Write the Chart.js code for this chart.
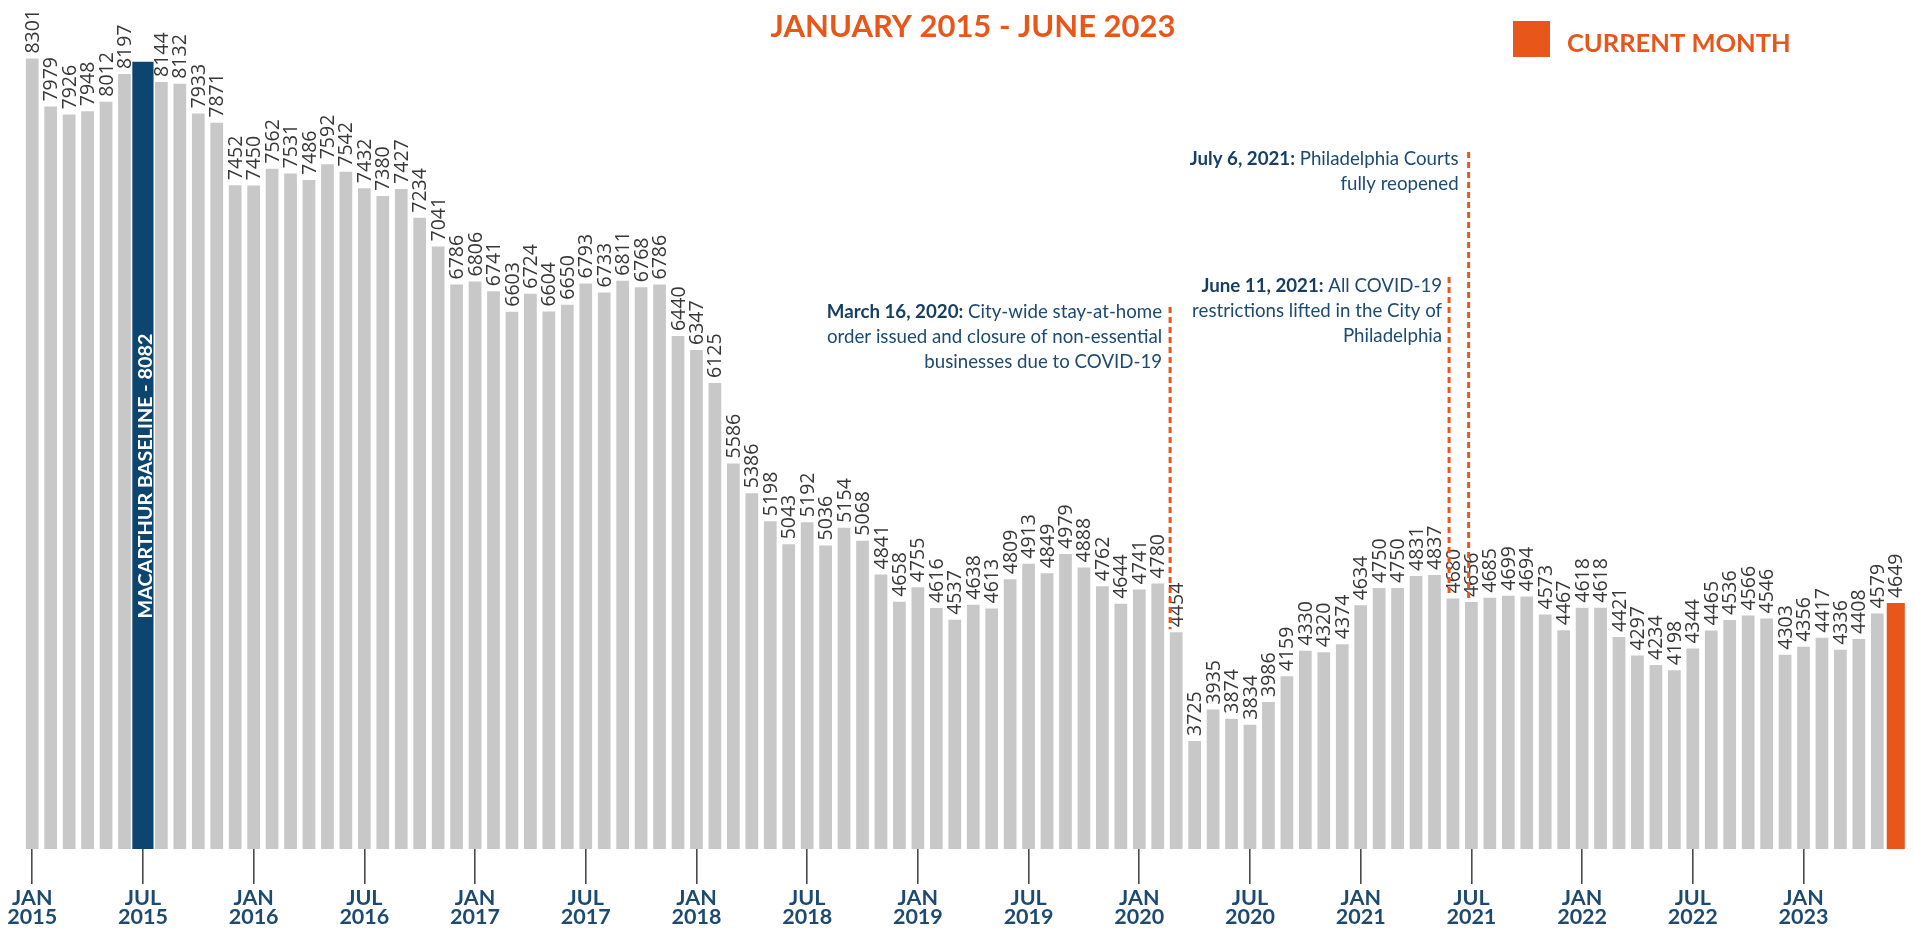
<!DOCTYPE html>
<html>
<head>
<meta charset="utf-8">
<script src="https://cdn.jsdelivr.net/npm/chart.js@4.4.0/dist/chart.umd.min.js"></script>
<style>
html,body{margin:0;padding:0;background:#ffffff;overflow:hidden}
#wrap{width:1915px;height:928px;position:relative}
</style>
</head>
<body>
<div id="wrap"><canvas id="c" width="1915" height="928"></canvas></div>
<script>
// ---------------- DATA ----------------
const years = [2015, 2016, 2017, 2018, 2019, 2020, 2021, 2022, 2023];
const monthNames = ['JAN','FEB','MAR','APR','MAY','JUN','JUL','AUG','SEP','OCT','NOV','DEC'];
const lastCategory = 'JUN 2023';
const tickMonths = ['JAN', 'JUL'];

// monthly values, JAN 2015 .. JUN 2023 (JUL 2015 is the baseline bar)
const monthlyCounts = [
  8301, 7979, 7926, 7948, 8012, 8197, null, 8144, 8132, 7933, 7871, 7452,
  7450, 7562, 7531, 7486, 7592, 7542, 7432, 7380, 7427, 7234, 7041, 6786,
  6806, 6741, 6603, 6724, 6604, 6650, 6793, 6733, 6811, 6768, 6786, 6440,
  6347, 6125, 5586, 5386, 5198, 5043, 5192, 5036, 5154, 5068, 4841, 4658,
  4755, 4616, 4537, 4638, 4613, 4809, 4913, 4849, 4979, 4888, 4762, 4644,
  4741, 4780, 4454, 3725, 3935, 3874, 3834, 3986, 4159, 4330, 4320, 4374,
  4634, 4750, 4750, 4831, 4837, 4680, 4656, 4685, 4699, 4694, 4573, 4467,
  4618, 4618, 4421, 4297, 4234, 4198, 4344, 4465, 4536, 4566, 4546, 4303,
  4356, 4417, 4336, 4408, 4579, 4649
];

const baselineCategory = 'JUL 2015';
const baselineText = 'MACARTHUR BASELINE - 8082';
const baselineBarValue = 8280;   // height the baseline bar is drawn to in the picture

const currentCategory = 'JUN 2023';

const titleText = 'JANUARY 2015 - JUNE 2023';
const legendText = 'CURRENT MONTH';

const eventBold = ['March 16, 2020:', 'July 6, 2021:', 'June 11, 2021:'];
const eventLines = [
  [' City-wide stay-at-home', 'order issued and closure of non-essential', 'businesses due to COVID-19'],
  [' Philadelphia Courts', 'fully reopened'],
  [' All COVID-19', 'restrictions lifted in the City of', 'Philadelphia']
];
const eventCategory = ['MAR 2020', 'JUL 2021', 'JUN 2021'];

// ---------------- BUILD ----------------
const categories = [];
for (const y of years) for (const m of monthNames) categories.push(m + ' ' + y);
categories.length = categories.indexOf(lastCategory) + 1;

const baseIdx = categories.indexOf(baselineCategory);
const curIdx = categories.indexOf(currentCategory);

const grayData = monthlyCounts.map((v, i) => (i === baseIdx || i === curIdx) ? null : v);
const navyData = categories.map((c, i) => i === baseIdx ? baselineBarValue : null);
const orangeData = categories.map((c, i) => i === curIdx ? monthlyCounts[i] : null);

const GRAY = '#c8c8c8', NAVY = '#0d4571', ORANGE = '#e8561a', TEXTNAVY = '#1c4a71', LABEL = '#383838';

// style / layout for event annotations (fractional category offsets and pixel y)
const eventStyle = [
  { shift: -0.33, lineTop: 307, firstBase: 318, gap: 8 },
  { shift: -0.15, lineTop: 152, firstBase: 165, gap: 10 },
  { shift: -0.21, lineTop: 277, firstBase: 292, gap: 7 }
];

const decorPlugin = {
  id: 'decor',
  afterDatasetsDraw(chart) {
    const ctx = chart.ctx;
    const xs = chart.scales.x, ys = chart.scales.y;
    const catW = xs.getPixelForValue(1) - xs.getPixelForValue(0);

    // value labels
    ctx.save();
    ctx.fillStyle = LABEL;
    ctx.font = '19.5px "Open Sans"';
    ctx.textAlign = 'left';
    ctx.textBaseline = 'middle';
    monthlyCounts.forEach((v, i) => {
      if (v === null) return;
      const x = xs.getPixelForValue(i) + 1;
      const y = ys.getPixelForValue(v) - 5;
      ctx.save();
      ctx.translate(x, y);
      ctx.rotate(-Math.PI / 2);
      ctx.fillText(String(v), 0, 0);
      ctx.restore();
    });
    ctx.restore();

    // baseline text inside navy bar
    ctx.save();
    ctx.fillStyle = '#ffffff';
    ctx.font = 'bold 19.8px Lato';
    ctx.textAlign = 'center';
    ctx.textBaseline = 'middle';
    ctx.translate(xs.getPixelForValue(baseIdx) + 1.5, 476);
    ctx.rotate(-Math.PI / 2);
    ctx.fillText(baselineText, 0, 1);
    ctx.restore();

    // events
    eventCategory.forEach((cat, k) => {
      const idx = categories.indexOf(cat);
      const st = eventStyle[k];
      const lx = xs.getPixelForValue(idx) + st.shift * catW;
      const bottom = ys.getPixelForValue(monthlyCounts[idx]) - 3;
      ctx.save();
      ctx.strokeStyle = ORANGE;
      ctx.lineWidth = 3;
      ctx.setLineDash([6, 4]);
      ctx.beginPath();
      ctx.moveTo(lx, st.lineTop);
      ctx.lineTo(lx, bottom);
      ctx.stroke();
      ctx.restore();

      ctx.save();
      ctx.textBaseline = 'alphabetic';
      ctx.textAlign = 'right';
      const right = lx - st.gap;
      const lines = eventLines[k];
      lines.forEach((ln, j) => {
        const y = st.firstBase + j * 25;
        ctx.font = '18.7px Lato';
        ctx.fillStyle = TEXTNAVY;
        ctx.fillText(ln, right, y);
        if (j === 0) {
          const w = ctx.measureText(ln).width;
          ctx.font = 'bold 18.7px Lato';
          ctx.fillStyle = '#173f63';
          ctx.fillText(eventBold[k], right - w, y);
        }
      });
      ctx.restore();
    });

    // title
    ctx.save();
    ctx.fillStyle = ORANGE;
    ctx.font = 'bold 31px Lato';
    ctx.textAlign = 'center';
    ctx.textBaseline = 'alphabetic';
    ctx.fillText(titleText, 973, 37);
    // legend
    ctx.fillRect(1513, 21, 37, 36);
    ctx.font = 'bold 25.5px Lato';
    ctx.textAlign = 'left';
    ctx.fillText(legendText, 1567, 52);
    ctx.restore();
  }
};

new Chart(document.getElementById('c'), {
  type: 'bar',
  data: {
    labels: categories,
    datasets: [
      { data: grayData, backgroundColor: GRAY, barPercentage: 0.69, categoryPercentage: 1, grouped: false },
      { data: navyData, backgroundColor: NAVY, barPercentage: 1.15, categoryPercentage: 1, grouped: false },
      { data: orangeData, backgroundColor: ORANGE, barPercentage: 0.98, categoryPercentage: 1, grouped: false }
    ]
  },
  options: {
    responsive: false,
    devicePixelRatio: 1,
    animation: false,
    layout: { padding: { left: 23, right: 10, top: 14, bottom: 0 } },
    plugins: { legend: { display: false }, tooltip: { enabled: false }, title: { display: false } },
    scales: {
      x: {
        type: 'category',
        offset: true,
        border: { display: false },
        grid: {
          offset: false,
          drawOnChartArea: false,
          drawTicks: true,
          tickLength: 35,
          color: '#4a4a4a',
          tickColor: '#4a4a4a',
          lineWidth: (c) => {
            const lab = categories[c.index] || '';
            return tickMonths.includes(lab.split(' ')[0]) ? 1.6 : 0;
          }
        },
        ticks: {
          autoSkip: false,
          maxRotation: 0,
          minRotation: 0,
          padding: 4,
          color: TEXTNAVY,
          font: { family: 'Lato', weight: 'bold', size: 21.5, lineHeight: 0.9 },
          callback: (v, i) => {
            const [m, y] = categories[i].split(' ');
            return tickMonths.includes(m) ? [m, y] : '';
          }
        },
        afterFit: (s) => { s.height = 79; }
      },
      y: { display: false, min: 3000, max: 8600 }
    }
  },
  plugins: [decorPlugin]
});
</script>
</body>
</html>
